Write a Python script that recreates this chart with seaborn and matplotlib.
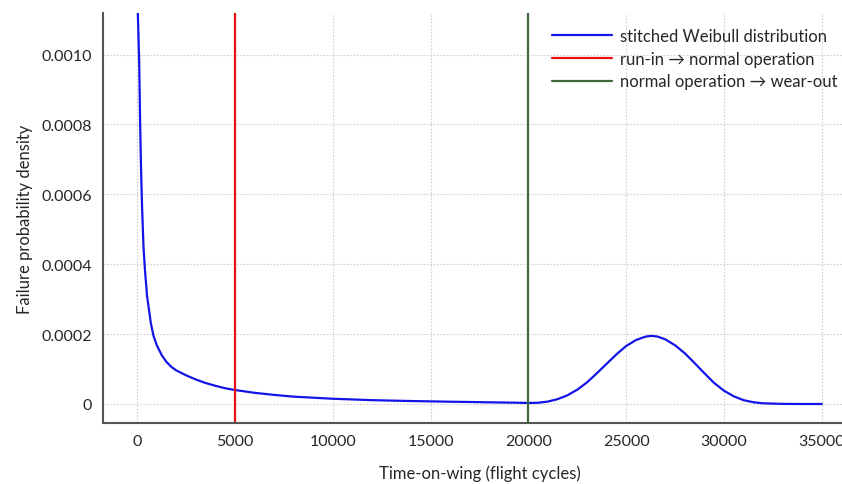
import numpy as np
import pandas as pd
import seaborn as sns
import matplotlib.pyplot as plt
from matplotlib.ticker import FuncFormatter

# values
cycles = [30, 100, 150, 200, 250, 320, 400, 500, 600, 700, 833, 1000, 1250, 1500,
          1750, 2000, 2500, 3000, 3500, 4000, 4500, 5000, 6000, 7000, 8000, 9000,
          10000, 11000, 12000, 13000, 14000, 15000, 16000, 17000, 18000, 19000,
          20000, 20500, 21000, 21500, 22000, 22500, 23000, 23500, 24000, 24500,
          25000, 25500, 26000, 26300, 26600, 27000, 27500, 28000, 28500, 29000,
          29500, 30000, 30500, 31000, 31500, 32000, 33000, 34000, 35000]
density = [0.00112, 0.00098, 0.00080, 0.00066, 0.00056, 0.00045, 0.00038, 0.00031,
           0.00027, 0.00023, 0.000195, 0.000168, 0.000140, 0.000120, 0.000106,
           0.000096, 0.000082, 0.000070, 0.000060, 0.000052, 0.000045, 0.000040,
           0.000032, 0.000026, 0.000021, 0.000018, 0.000015, 0.000013, 0.000011,
           0.0000097, 0.0000085, 0.0000075, 0.0000065, 0.0000057, 0.0000048,
           0.0000040, 0.0000030, 0.0000035, 0.0000070, 0.000014, 0.000025,
           0.000041, 0.000062, 0.000088, 0.000115, 0.000142, 0.000166, 0.000183,
           0.000193, 0.000195, 0.000193, 0.000185, 0.000168, 0.000145, 0.000117,
           0.000088, 0.000060, 0.000038, 0.000022, 0.000011, 0.0000050, 0.0000020,
           0.0000003, 0.0, 0.0]

run_in_end = 5000
wear_out_start = 20000

x_ticks = [0, 5000, 10000, 15000, 20000, 25000, 30000, 35000]
y_ticks = [0, 0.0002, 0.0004, 0.0006, 0.0008, 0.0010]

df = pd.DataFrame({"cycles": cycles, "density": density})

sns.set_style("white")
plt.rcParams['font.family'] = ['Lato', 'DejaVu Sans']

fig = plt.figure(figsize=(8.42, 4.85), dpi=100)
ax = fig.add_axes([103 / 842, 61 / 485, (856 - 103) / 842, (424 - 14) / 485])

sns.lineplot(data=df, x="cycles", y="density", ax=ax, color="#1414e6",
             linewidth=1.6, label="stitched Weibull distribution")
ax.axvline(run_in_end, color="#e81010", linewidth=1.6,
           label="run-in \u2192 normal operation")
ax.axvline(wear_out_start, color="#3d6b3d", linewidth=1.6,
           label="normal operation \u2192 wear-out")

ax.set_xlim(-1750, 36750)
ax.set_ylim(-0.0000544, 0.001119)
ax.set_xticks(x_ticks)
ax.set_yticks(y_ticks)
ax.yaxis.set_major_formatter(FuncFormatter(lambda v, p: "0" if v == 0 else f"{v:.4f}"))

ax.grid(True, linestyle=(0, (1.5, 1.5)), color="#cfcfcf", linewidth=0.8)
for side in ["top", "right"]:
    ax.spines[side].set_visible(False)
for side in ["left", "bottom"]:
    ax.spines[side].set_color("#555555")
    ax.spines[side].set_linewidth(1.5)
ax.tick_params(direction="in", length=4, width=1.2, color="#555555",
               labelsize=11.5, pad=8)

ax.set_xlabel("Time-on-wing (flight cycles)", fontsize=12, labelpad=12)
ax.set_ylabel("Failure probability density", fontsize=12, labelpad=6)

ax.legend(loc="upper left", bbox_to_anchor=(552 / 842, 1 - 29 / 485),
          bbox_transform=fig.transFigure, frameon=False, fontsize=12,
          handlelength=3.6, handletextpad=0.45, labelspacing=0.4,
          borderpad=0, borderaxespad=0)

fig.savefig("out.png", dpi=100)
